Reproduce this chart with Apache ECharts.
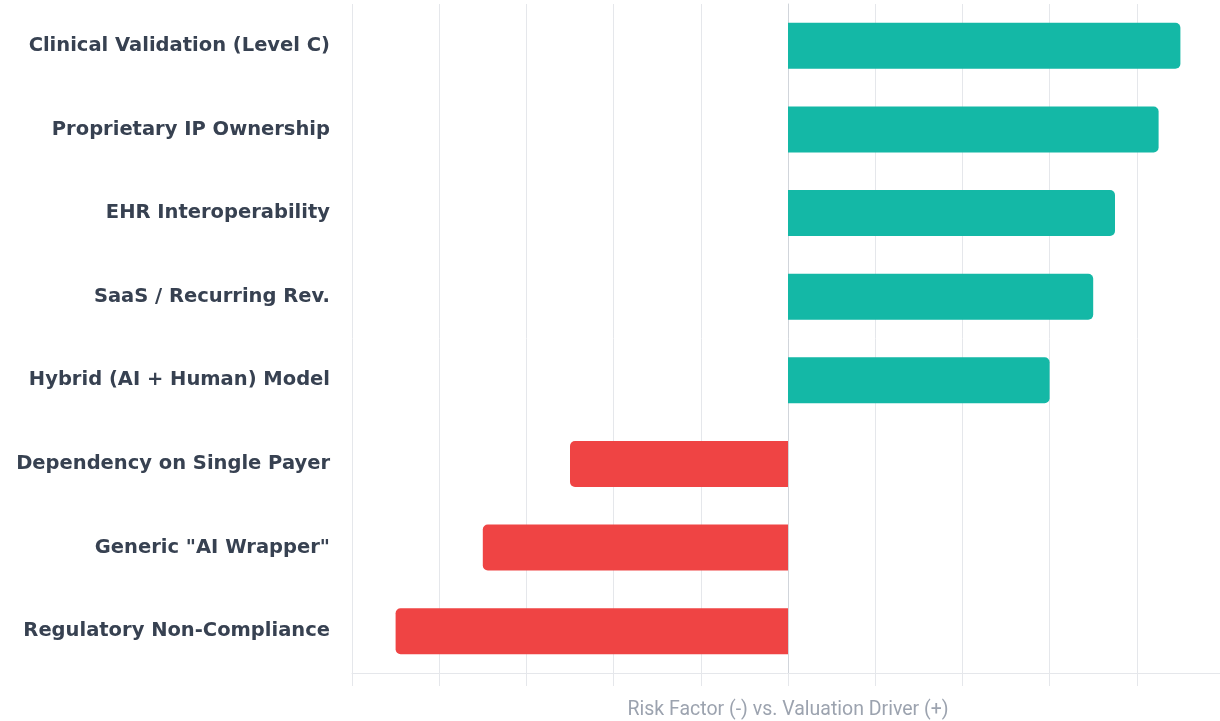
<!DOCTYPE html>
<html>
<head>
<meta charset="utf-8">
<title>Risk Factors vs Valuation Drivers</title>
<script src="https://cdn.jsdelivr.net/npm/echarts@6/dist/echarts.min.js"></script>
<style>
  html, body { margin: 0; padding: 0; background: #fff; }
  #chart { width: 1220px; height: 721px; }
</style>
</head>
<body>
<div id="chart"></div>
<script>
// Categories top to bottom
const categories = [
  'Clinical Validation (Level C)',
  'Proprietary IP Ownership',
  'EHR Interoperability',
  'SaaS / Recurring Rev.',
  'Hybrid (AI + Human) Model',
  'Dependency on Single Payer',
  'Generic "AI Wrapper"',
  'Regulatory Non-Compliance'
];

// Score: positive = valuation driver, negative = risk factor
const scores = [9, 8.5, 7.5, 7, 6, -5, -7, -9];

const POS_COLOR = '#14b8a6';
const NEG_COLOR = '#ef4444';

const chart = echarts.init(document.getElementById('chart'));

const barData = scores.map(v => ({
  value: v,
  itemStyle: {
    color: v >= 0 ? POS_COLOR : NEG_COLOR,
    borderRadius: v >= 0 ? [0, 5, 5, 0] : [5, 0, 0, 5]
  }
}));

chart.setOption({
  animation: false,
  grid: {
    left: 352, right: -4, top: 4, bottom: 48,
    containLabel: false,
    outerBoundsMode: 'none'
  },
  xAxis: {
    type: 'value',
    min: -10,
    max: 10,
    interval: 2,
    name: 'Risk Factor (-) vs. Valuation Driver (+)',
    nameLocation: 'middle',
    nameGap: 27,
    nameTextStyle: { color: '#9ca3af', fontSize: 19.5, fontFamily: 'Roboto' },
    axisLabel: { show: false },
    axisLine: { show: true, lineStyle: { color: '#e5e7eb' } },
    axisTick: { show: true, length: 13, lineStyle: { color: '#e5e7eb' } },
    splitLine: { show: true, lineStyle: { color: '#e5e7eb' } }
  },
  yAxis: {
    type: 'category',
    data: categories,
    inverse: true,
    axisLine: { show: true, lineStyle: { color: '#d1d5db' } },
    axisTick: { show: false },
    axisLabel: {
      margin: 22,
      color: '#374151',
      fontSize: 19.5,
      fontWeight: 'bold',
      fontFamily: '"DejaVu Sans", sans-serif'
    }
  },
  series: [{
    type: 'bar',
    data: barData,
    barWidth: 46
  }]
});
</script>
</body>
</html>
